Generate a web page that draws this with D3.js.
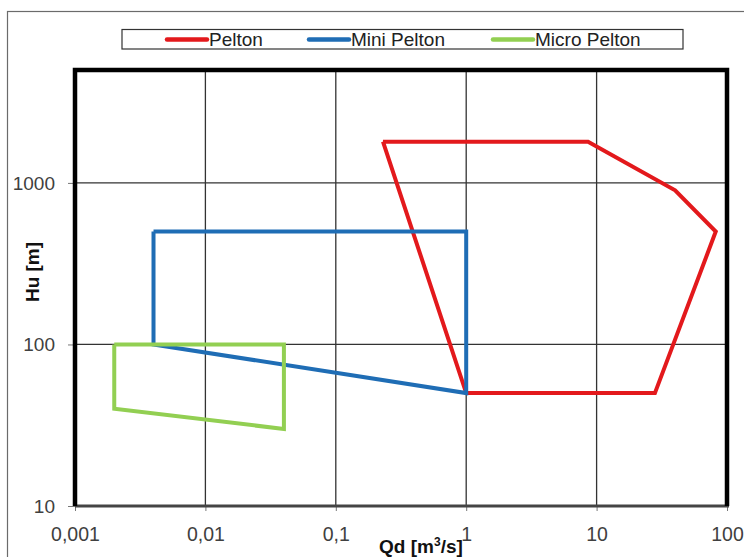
<!DOCTYPE html>
<html><head><meta charset="utf-8">
<script src="https://cdn.jsdelivr.net/npm/d3@7"></script>
<style>
html,body{margin:0;padding:0;background:#fff;}
svg{display:block;font-family:"Liberation Sans",Arial,sans-serif;}
</style></head>
<body><div id="chart"></div>
<script>
// ---- data ----
const seriesNames = ["Pelton", "Mini Pelton", "Micro Pelton"];
const seriesColors = ["#e3191c", "#1f6db5", "#92cf52"];
const peltonQ = [0.23, 8.6, 40, 82, 28, 1, 0.23];
const peltonH = [1800, 1800, 900, 500, 50, 50, 1800];
const miniQ = [0.004, 1, 1, 0.004, 0.004];
const miniH = [500, 500, 50, 100, 500];
const microQ = [0.002, 0.04, 0.04, 0.002, 0.002];
const microH = [100, 100, 30, 40, 100];
const xTicks = [0.001, 0.01, 0.1, 1, 10, 100];
const xTickLabels = ["0,001", "0,01", "0,1", "1", "10", "100"];
const yTicks = [10, 100, 1000];
const yTickLabels = ["10", "100", "1000"];

const W = 744, H = 557;
const m = {left: 75, right: 17, top: 70, bottom: 51};
const iw = W - m.left - m.right, ih = H - m.top - m.bottom;
const FONT = "Liberation Sans, Arial, sans-serif";

const svg = d3.select("#chart").append("svg").attr("width", W).attr("height", H);

// outer frame
svg.append("rect").attr("x", 7.5).attr("y", 11.5).attr("width", 760).attr("height", 570)
  .attr("fill", "none").attr("stroke", "#6b6b6b").attr("stroke-width", 1.2);

const x = d3.scaleLog().domain([0.001, 100]).range([m.left, m.left + iw]);
const y = d3.scaleLog().domain([10, 5000]).range([m.top + ih, m.top]);

const g = svg.append("g");

// grid
g.selectAll(".vg").data(xTicks.slice(1, -1)).enter().append("line")
  .attr("x1", d => x(d)).attr("x2", d => x(d)).attr("y1", m.top).attr("y2", m.top + ih)
  .attr("stroke", "#333").attr("stroke-width", 1.3);
g.selectAll(".hg").data(yTicks.slice(1)).enter().append("line")
  .attr("x1", m.left).attr("x2", m.left + iw).attr("y1", d => y(d)).attr("y2", d => y(d))
  .attr("stroke", "#333").attr("stroke-width", 1.3);

// axes
const xAxis = d3.axisBottom(x).tickValues(xTicks).tickFormat((d, i) => xTickLabels[i]).tickSize(5).tickPadding(10);
const yAxis = d3.axisLeft(y).tickValues(yTicks).tickFormat((d, i) => yTickLabels[i]).tickSize(7).tickPadding(13);

const gx = svg.append("g").attr("transform", `translate(0,${m.top + ih})`).call(xAxis);
gx.select(".domain").remove();
gx.selectAll(".tick line").attr("stroke", "#777");
gx.selectAll("text").attr("font-size", 19.5).attr("fill", "#404040").attr("font-family", FONT)
  .attr("y", 35).attr("dy", 0);

const gy = svg.append("g").attr("transform", `translate(${m.left},0)`).call(yAxis);
gy.select(".domain").remove();
gy.selectAll(".tick line").attr("stroke", "#777");
gy.selectAll("text").attr("font-size", 19).attr("fill", "#404040").attr("font-family", FONT);

// series
const line = d3.line().x(d => x(d[0])).y(d => y(d[1]));
const series = [
  d3.zip(peltonQ, peltonH),
  d3.zip(miniQ, miniH),
  d3.zip(microQ, microH)
];
series.forEach((pts, i) => {
  svg.append("path").attr("d", line(pts)).attr("fill", "none")
    .attr("stroke", seriesColors[i]).attr("stroke-width", 4).attr("stroke-linejoin", "miter");
});

// plot area border
svg.append("line").attr("x1", m.left).attr("x2", m.left + iw + 2).attr("y1", m.top + ih).attr("y2", m.top + ih)
  .attr("stroke", "#444").attr("stroke-width", 3);
svg.append("path")
  .attr("d", `M${m.left},${m.top + ih} V${m.top} H${m.left + iw} V${m.top + ih}`)
  .attr("fill", "none").attr("stroke", "#000").attr("stroke-width", 4.5);

// axis titles
svg.append("text").attr("x", x(0.45)).attr("y", 553).attr("text-anchor", "middle")
  .attr("font-size", 19).attr("font-weight", "bold").attr("fill", "#111")
  .html('Qd [m<tspan font-size="12" dy="-7">3</tspan><tspan dy="7">/s]</tspan>');
svg.append("text").attr("transform", `translate(39,272) rotate(-90)`).attr("text-anchor", "middle")
  .attr("font-size", 19).attr("font-weight", "bold").attr("fill", "#111").text("Hu [m]");

// legend
svg.append("rect").attr("x", 122).attr("y", 29.5).attr("width", 561).attr("height", 19.5)
  .attr("fill", "#fff").attr("stroke", "#333").attr("stroke-width", 1.2);
const legendX = [167, 309, 493];
seriesNames.forEach((n, i) => {
  svg.append("line").attr("x1", legendX[i]).attr("x2", legendX[i] + 40).attr("y1", 39.5).attr("y2", 39.5)
    .attr("stroke", seriesColors[i]).attr("stroke-width", 4.5).attr("stroke-linecap", "round");
  svg.append("text").attr("x", legendX[i] + 42).attr("y", 46).attr("font-size", 19).attr("fill", "#222")
    .text(n);
});
</script></body></html>
